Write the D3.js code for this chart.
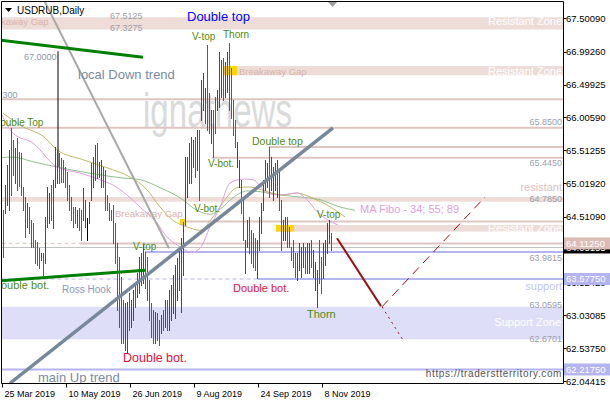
<!DOCTYPE html>
<html><head><meta charset="utf-8">
<script src="https://cdn.jsdelivr.net/npm/d3@7"></script>
<style>body{margin:0;background:#fff}svg{display:block;font-family:"Liberation Sans",Arial,sans-serif}</style>
</head><body><svg id="c" width="610" height="400"></svg>
<script>
// ---------- DATA ----------
const barHigh = [64.62,64.99,65.29,65.52,65.85,65.67,65.55,65.70,65.49,65.47,
64.96,64.81,64.72,64.66,64.47,64.42,64.16,64.13,64.04,63.97,
63.97,64.51,64.96,64.87,64.99,65.07,65.56,65.52,65.47,65.40,
65.37,65.26,65.19,64.99,64.81,64.66,64.66,64.62,64.65,64.62,
64.95,64.77,64.50,64.74,65.32,65.41,65.59,65.62,65.34,65.37,
65.26,65.22,64.84,64.72,64.62,64.69,64.42,64.12,63.91,63.61,
63.26,63.22,63.23,63.37,63.26,63.41,63.52,63.67,63.91,63.97,
64.09,63.98,63.91,63.56,63.22,63.11,63.08,63.07,62.96,63.04,
63.11,63.26,63.26,63.41,63.49,63.64,63.79,63.89,64.01,64.19,
64.44,65.41,65.41,65.62,65.71,65.67,65.71,65.82,65.82,66.57,
66.67,66.45,67.10,66.37,66.12,66.12,66.31,66.42,66.99,66.87,
66.90,66.84,66.99,67.13,66.75,66.27,65.97,65.64,65.37,65.07,
64.77,64.16,64.47,64.51,64.31,64.27,64.19,64.16,64.51,64.72,
65.07,65.37,65.32,65.56,65.41,65.26,65.32,65.37,65.22,64.77,
64.47,64.51,64.51,64.36,64.06,64.16,63.97,63.97,64.12,64.06,
64.12,64.06,64.12,64.12,64.16,64.01,63.83,63.71,64.16,63.91,
64.12,64.16,64.42,64.47,64.27];
const barLow = [63.91,64.57,64.69,64.62,64.84,65.14,65.02,64.92,64.98,64.84,
64.62,64.21,64.36,64.27,64.06,64.06,63.82,63.79,63.74,63.86,
63.64,63.82,64.36,64.42,64.47,64.34,64.96,65.02,65.02,65.04,
65.04,64.96,64.77,64.62,64.47,64.36,64.42,64.36,64.31,64.16,
64.47,64.36,64.16,64.42,64.77,64.96,65.07,65.10,65.11,64.96,
64.96,64.62,64.62,64.47,64.47,64.12,63.82,63.11,62.86,62.62,
62.62,62.51,62.48,62.81,62.86,62.96,63.16,63.31,63.37,63.49,
63.52,63.44,63.26,62.96,62.71,62.62,62.62,62.66,62.59,62.77,
62.81,62.86,62.81,62.81,62.96,63.07,62.99,63.26,63.41,63.08,
63.64,64.39,64.81,65.02,65.02,65.26,65.11,65.22,64.77,65.97,
66.12,65.92,65.82,65.77,65.62,65.41,65.77,66.12,66.16,66.31,
66.27,66.31,66.39,66.12,66.00,65.74,65.56,65.26,64.96,64.57,
64.16,63.67,64.06,63.97,63.82,63.76,63.71,63.59,64.01,64.27,
64.62,64.92,64.96,64.81,64.92,64.77,64.92,64.81,64.62,64.01,
64.16,64.16,64.06,64.06,63.86,63.76,63.61,63.56,63.71,63.61,
63.76,63.67,63.67,63.67,63.76,63.61,63.41,63.16,63.52,63.37,
63.59,63.79,63.97,64.12,64.01];
// g = up bar, r = down bar, n = unchanged
const barDir = ("rgggrrgrrr"+"rrgrrrrrrg"+"rgggrgggrr"+"rrrrrrrgrr"+"ggnggggrgg"+
 "rrrrrrrrrr"+"rggrggrggg"+"grrrrrgrrg"+"rgrggggggg"+"ggggggrgrg"+
 "ggrrgrrggg"+"rggrrrrggr"+"rggrrrrggg"+"gggrggggrr"+"ggrrrrrggg"+
 "grggrgggrr"+"ggggr").split("");

const dateTickIdx = [0,32,64,96,128,160];
const dateLabels = ["25 Mar 2019","10 May 2019","26 Jun 2019","9 Aug 2019","24 Sep 2019","8 Nov 2019"];
const priceTicks = [67.50090,66.99260,66.49925,66.00590,65.51255,65.01920,64.51090,64.01755,63.52420,63.03085,62.53750,62.04415];
const priceTickLabels = ["67.50090","66.99260","66.49925","66.00590","65.51255","65.01920","64.51090","","63.52420","63.03085","62.53750","62.04415"];

// Moving averages (MA Fibo 34; 55; 89) read at sample bars: [bar, price]
const ma34 = [[-0.5,66.04],[5,65.77],[15,65.62],[27,65.26],[38.5,65.17],[48.5,65.07],[55,64.99],[62,64.84],[68.5,64.66],[77,64.42],[82,64.21],[87,64.09],[94.5,63.98],[98.5,64.04],[103.5,64.36],[108.5,64.66],[113.5,65.02],[120,65.08],[125,65.07],[132,64.87],[138.5,64.84],[147,64.87],[152,64.77],[157,64.59],[162,64.47],[167.5,64.39]];
const ma55 = [[0,66.07],[8.5,65.89],[21,65.70],[27,65.52],[40,65.37],[52,65.25],[63.5,65.11],[72,64.92],[78.5,64.66],[85,64.46],[92,64.36],[98.5,64.31],[105,64.51],[112,64.81],[117,64.95],[123.5,64.96],[132,64.89],[140,64.84],[147,64.87],[155,64.79],[162,64.69],[171,64.51]];
const ma89 = [[-1.5,65.40],[5,65.41],[15,65.34],[32,65.23],[45,65.16],[58.5,65.10],[68.5,65.07],[78.5,64.95],[88.5,64.80],[97,64.61],[103.5,64.55],[109.5,64.65],[115,64.80],[122,64.90],[128.5,64.89],[138.5,64.84],[148.5,64.81],[158.5,64.77],[168.5,64.66],[176,64.61]];

// Trend lines: [bar, price] pairs
const localDownTrend = [[-1.5,67.17],[70,66.91]];
const rossHookLine   = [[-1.5,63.55],[71,63.71]];
const thinDownLine   = [[20.5,67.77],[83,64.04]];
const mainUpTrend    = [[3.5,62.01],[165,65.85]];
const measureLine    = [[27.5,67.00],[27.5,65.26]];
const forecastDown   = [[167,64.19],[189,63.17]];
const forecastUp     = [[189.5,63.16],[241,64.81]];
const forecastDeep   = [[189.5,63.16],[200,62.66]];

// Horizontal zones: start bar, top, bottom
const resistZones = [[-2,67.5125,67.3275],[110,66.78,66.64],[-2,64.81,64.74],[136.5,64.39,64.29]];
const supportZone = [-2,63.16,62.6701];
// Horizontal levels: start bar (dashed before), price
const pinkLevels = [[-2,66.28],[-2,65.85],[133,65.56],[104.5,65.40],[89,64.44],[38.5,64.1125]];
const blueLevels = [[71,63.9815],[127.5,63.5775],[-2,62.2175]];
const bidPrice = 64.05155;
// gap markers: [startBar, endBar, top, bottom]
const gapBoxes = [[88.5,91.5,64.48,64.39],[110,117,66.78,66.64],[136.5,145.5,64.39,64.29]];

// ---------- DRAW ----------
const svg = d3.select("#c");
const L=1.5, R=563.5, T=1.5, B=383.5;
const x = d3.scaleLinear().domain([0,1]).range([3,5]);
const y = d3.scaleLinear().domain([62.01409,67.7565]).range([383,1]);
const line = d3.line().x(d=>x(d[0])).y(d=>y(d[1]));

svg.append("defs").append("clipPath").attr("id","pc").append("rect")
  .attr("x",L).attr("y",T).attr("width",R-L).attr("height",B-T);
const g = svg.append("g").attr("clip-path","url(#pc)");

const pinkFill="#eedcd8", pinkLine="#dfc5c1", blueLine="#b4b4ee", blueFill="#dedef9";

resistZones.forEach(z=>{
  g.append("rect").attr("x",Math.max(L,x(z[0]))).attr("width",R-Math.max(L,x(z[0])))
   .attr("y",y(z[1])).attr("height",y(z[2])-y(z[1])).attr("fill",pinkFill);
});
g.append("rect").attr("x",L).attr("width",R-L).attr("y",y(supportZone[1]))
  .attr("height",y(supportZone[2])-y(supportZone[1])).attr("fill",blueFill);

// watermark
g.append("text").attr("x",143).attr("y",127).attr("font-size",48)
  .attr("transform","translate(143,0) scale(0.69,1) translate(-143,0)")
  .attr("fill","#dadada").text("ignatnews");

function level(lv,color,w){
  const sx = Math.max(L,x(lv[0]));
  g.append("line").attr("x1",sx).attr("x2",R).attr("y1",y(lv[1])).attr("y2",y(lv[1]))
    .attr("stroke",color).attr("stroke-width",w);
  if (sx>L+1) g.append("line").attr("x1",L).attr("x2",sx).attr("y1",y(lv[1])).attr("y2",y(lv[1]))
    .attr("stroke",color).attr("stroke-width",1).attr("stroke-dasharray","4,3");
}
pinkLevels.forEach((lv,i)=>{ if(i===2||i===3||i===4){
  g.append("line").attr("x1",x(lv[0])).attr("x2",R).attr("y1",y(lv[1])).attr("y2",y(lv[1])).attr("stroke",pinkLine).attr("stroke-width",2);
 } else level(lv,pinkLine,2); });
g.append("line").attr("x1",L).attr("x2",R).attr("y1",y(bidPrice)).attr("y2",y(bidPrice)).attr("stroke","#c0c0c0").attr("stroke-width",1);
blueLevels.forEach((lv,i)=>{ if(i===0){
  g.append("line").attr("x1",x(lv[0])).attr("x2",R).attr("y1",y(lv[1])).attr("y2",y(lv[1])).attr("stroke",blueLine).attr("stroke-width",2);
 } else level(lv,blueLine,2); });

gapBoxes.forEach(b=>{
  g.append("rect").attr("x",x(b[0])).attr("width",x(b[1])-x(b[0])).attr("y",y(b[2]))
   .attr("height",y(b[3])-y(b[2])).attr("fill","#ffd700");
});

[[ma89,"#8fc08f"],[ma55,"#bdb76b"],[ma34,"#dda0dd"]].forEach(m=>{
  g.append("path").attr("d",d3.line().curve(d3.curveMonotoneX).x(d=>x(d[0])).y(d=>y(d[1]))(m[0]))
   .attr("fill","none").attr("stroke",m[1]).attr("stroke-width",1);
});

g.append("path").attr("d",line(thinDownLine)).attr("stroke","#a8a8a8").attr("stroke-width",2).attr("fill","none");
g.append("path").attr("d",line(localDownTrend)).attr("stroke","#008000").attr("stroke-width",3);
g.append("path").attr("d",line(rossHookLine)).attr("stroke","#008000").attr("stroke-width",3);
g.append("path").attr("d",line(measureLine)).attr("stroke","#000").attr("stroke-width",1);

// bars: vertical high-low lines, one pixel wide
const bars = d3.range(barHigh.length);
g.selectAll("line.bar").data(bars).join("line").attr("class","bar")
  .attr("x1",i=>x(i)+0.5).attr("x2",i=>x(i)+0.5)
  .attr("y1",i=>Math.round(y(barHigh[i]))).attr("y2",i=>Math.round(y(barLow[i]))+1)
  .attr("stroke-width",1).attr("shape-rendering","crispEdges")
  .attr("stroke",i=>barDir[i]==="g"?"#008000":barDir[i]==="r"?"#f0143c":"#000");

g.append("path").attr("d",line(mainUpTrend)).attr("stroke","#778899").attr("stroke-width",3.5).attr("fill","none");
g.append("path").attr("d",line(forecastDown)).attr("stroke","#9b1010").attr("stroke-width",2);
g.append("path").attr("d",line(forecastUp)).attr("stroke","#9b1010").attr("stroke-width",1).attr("stroke-dasharray","9,6");
g.append("path").attr("d",line(forecastDeep)).attr("stroke","#9b1010").attr("stroke-width",1).attr("stroke-dasharray","2,4");

function t(s,px,py,size,color,anchor,extra){
  const e=g.append("text").attr("x",px).attr("y",py).attr("font-size",size).attr("fill",color).text(s);
  if(anchor) e.attr("text-anchor",anchor);
  if(extra) extra(e);
  return e;
}
const olive="#4f8a10", rose="#d9b3ab", lab="#9aa0aa";
t("Breakaway Gap",-19,25,9.5,rose);
t("67.5125",110,19,9,lab);
t("67.3275",110,31,9,lab);
t("Resistant Zone",562,25,11,"#fff","end");
t("Double top",187,21,13,"#0000ff");
t("V-top",192,40,10,olive);
t("Thorn",223,38,10,olive);
t("67.0000",24,60,9,"#8a99aa");
t("local Down trend",78,79,13,"#7a8aa0");
t("Breakaway Gap",239,75,9.5,rose);
t("Resistant Zone",562,75,11,"#fff","end");
t("66.2300",-15,98,9,"#8a99aa");
t("65.8500",562,125,9,lab,"end");
t("Double Top",-7,126,10,olive);
t("Double top",252,145,10.5,olive);
t("V-bot.",208,167,10,olive);
t("65.4450",562,166,9,lab,"end");
t("resistant",562,191,11,"#e0c0bc","end");
t("64.7850",562,202,9,lab,"end");
t("V-bot.",194,212,10,olive);
t("MA Fibo - 34; 55; 89",360,213,11,"#dda0dd");
t("V-top",317,218,10,olive);
t("Breakaway Gap",115,217,9.5,rose);
t("Resistant Zone",562,232,11,"#fff","end");
t("V-top",133,250,10,olive);
t("63.9815",562,261,9,lab,"end");
t("Double bot.",-7,289,11,olive);
t("Ross Hook",62,293,10,"#8a99bb");
t("Double bot.",233,292,11,"#dc143c");
t("support",562,290,11,"#c4c4f2","end");
t("63.0595",562,308,9,lab,"end");
t("Thorn",307,318,11,olive);
t("Support Zone",561,326,11,"#fff","end");
t("62.6701",562,342,9,lab,"end");
t("Double bot.",123,362,12.5,"#dc143c");
t("main Up trend",38,382,13,"#7a8aa0");
t("https://traderstterritory.com",562,377,10,"#555","end",e=>e.attr("letter-spacing",0.6));

svg.append("path").attr("d",`M${L},${B}V${T}H${R}V${B}H${L}`).attr("fill","none").attr("stroke","#000").attr("stroke-width",1);
svg.append("path").attr("d","M328,2L337,2L332.5,7Z").attr("fill","#a0a0a0");

svg.append("path").attr("d","M5,8L12,8L8.5,12Z").attr("fill","#000");
svg.append("text").attr("x",17).attr("y",14).attr("font-size",10).text("USDRUB,Daily");

const ax = svg.append("g");
priceTicks.forEach((p,i)=>{
  ax.append("line").attr("x1",R).attr("x2",R+3).attr("y1",Math.round(y(p))+0.5).attr("y2",Math.round(y(p))+0.5).attr("stroke","#000");
  if(priceTickLabels[i]) ax.append("text").attr("x",566).attr("y",y(p)+3.5).attr("font-size",9.5).text(priceTickLabels[i]);
});
function box(p,txt,bg,fg){
  const yy=y(p);
  ax.append("rect").attr("x",564).attr("y",yy-6).attr("width",46).attr("height",12).attr("fill",bg);
  ax.append("text").attr("x",566).attr("y",yy+3.5).attr("font-size",9.5).attr("fill",fg).text(txt);
}
box(bidPrice,"64.05155","#000","#fff");
box(64.1125,"64.11250","#dcbcb6","#fff");
box(63.5775,"63.57750","#b4b4ee","#fff");
box(62.2175,"62.21750","#b4b4ee","#fff");

dateTickIdx.forEach((d,i)=>{
  const xx=Math.round(x(d))-0.5;
  svg.append("line").attr("x1",xx).attr("x2",xx).attr("y1",B).attr("y2",B+4).attr("stroke","#000");
  svg.append("text").attr("x",xx+2).attr("y",397).attr("font-size",9).text(dateLabels[i]);
});
</script></body></html>
